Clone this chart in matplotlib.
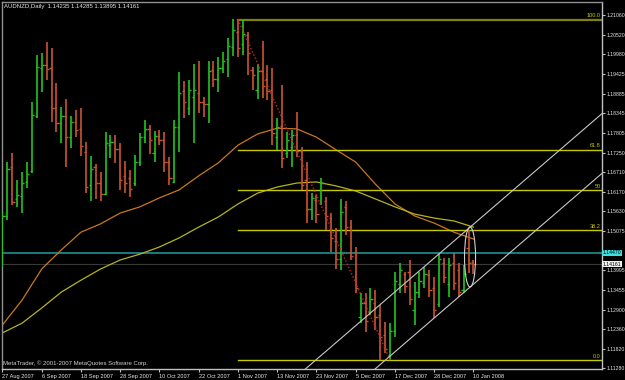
import matplotlib
matplotlib.use("Agg")
import matplotlib.pyplot as plt
from matplotlib.patches import Ellipse
import numpy as np

# AUDNZD daily bars, 27 Aug 2007 - 10 Jan 2008
opens = [1.1415, 1.1550, 1.1686, 1.1597, 1.1605, 1.1645, 1.1675, 1.1827, 1.1960, 1.1968,
         1.1960, 1.1849, 1.1807, 1.1827, 1.1768, 1.1810, 1.1790, 1.1727, 1.1636, 1.1686,
         1.1641, 1.1610, 1.1746, 1.1755, 1.1735, 1.1660, 1.1655, 1.1640, 1.1700, 1.1768,
         1.1790, 1.1725, 1.1770, 1.1760, 1.1700, 1.1645, 1.1796, 1.1895, 1.1850, 1.1880,
         1.1890, 1.1865, 1.1860, 1.1954, 1.1928, 1.1960, 1.1985, 1.2018, 1.2060, 1.2025,
         1.2050, 1.1955, 1.1900, 1.1950, 1.1930, 1.1900, 1.1768, 1.1800, 1.1725, 1.1740,
         1.1775, 1.1730, 1.1650, 1.1570, 1.1595, 1.1585, 1.1590, 1.1545, 1.1480, 1.1430,
         1.1575, 1.1520, 1.1450, 1.1270, 1.1310, 1.1285, 1.1310, 1.1275, 1.1220, 1.1165,
         1.1230, 1.1360, 1.1390, 1.1395, 1.1290, 1.1340, 1.1365, 1.1385, 1.1350, 1.1305,
         1.1420, 1.1360, 1.1420, 1.1400, 1.1345, 1.1460, 1.14235]
highs = [1.1561, 1.1699, 1.1724, 1.1650, 1.1672, 1.1699, 1.1865, 1.1996, 1.2001, 1.2032,
         1.2015, 1.1918, 1.1852, 1.1874, 1.1827, 1.1843, 1.1849, 1.1755, 1.1716, 1.1694,
         1.1672, 1.1782, 1.1774, 1.1774, 1.1752, 1.1702, 1.1677, 1.1719, 1.1780, 1.1816,
         1.1802, 1.1785, 1.1788, 1.1782, 1.1713, 1.1816, 1.1949, 1.1924, 1.1926, 1.1971,
         1.1979, 1.1879, 1.1979, 1.1979, 1.1990, 1.2004, 1.2043, 1.2095, 1.2093, 1.2093,
         1.2059, 1.1962, 1.1971, 1.2034, 1.1968, 1.1960, 1.1821, 1.1913, 1.1782, 1.1788,
         1.1838, 1.1741, 1.1699, 1.1613, 1.1608, 1.1655, 1.1602, 1.1558, 1.1516, 1.1597,
         1.1591, 1.1539, 1.1464, 1.1336, 1.1336, 1.1350, 1.1345, 1.1303, 1.1256, 1.1253,
         1.1395, 1.1420, 1.1395, 1.1428, 1.1367, 1.1395, 1.1408, 1.1400, 1.1381, 1.1447,
         1.1433, 1.1433, 1.1447, 1.1420, 1.1414, 1.1511, 1.14285]
lows = [1.1408, 1.1539, 1.1580, 1.1575, 1.1558, 1.1627, 1.1669, 1.1821, 1.1893, 1.1926,
        1.1810, 1.1782, 1.1752, 1.1686, 1.1738, 1.1768, 1.1716, 1.1613, 1.1591, 1.1597,
        1.1591, 1.1608, 1.1710, 1.1697, 1.1622, 1.1613, 1.1602, 1.1633, 1.1688, 1.1752,
        1.1721, 1.1699, 1.1746, 1.1672, 1.1636, 1.1641, 1.1727, 1.1821, 1.1829, 1.1752,
        1.1835, 1.1824, 1.1807, 1.1907, 1.1893, 1.1946, 1.1935, 1.1993, 1.1990, 1.1996,
        1.1940, 1.1899, 1.1874, 1.1877, 1.1871, 1.1746, 1.1733, 1.1683, 1.1710, 1.1686,
        1.1713, 1.1622, 1.1530, 1.1539, 1.1530, 1.1580, 1.1511, 1.1450, 1.1403, 1.1400,
        1.1497, 1.1428, 1.1336, 1.1253, 1.1228, 1.1275, 1.1234, 1.1151, 1.1170, 1.1151,
        1.1215, 1.1336, 1.1336, 1.1303, 1.1248, 1.1323, 1.1350, 1.1325, 1.1267, 1.1298,
        1.1364, 1.1325, 1.1345, 1.1325, 1.1336, 1.1392, 1.13895]
closes = [1.1550, 1.1680, 1.1588, 1.1608, 1.1640, 1.1665, 1.1829, 1.1962, 1.1968, 1.1957,
          1.1849, 1.1807, 1.1827, 1.1768, 1.1810, 1.1788, 1.1745, 1.1630, 1.1680, 1.1641,
          1.1610, 1.1752, 1.1755, 1.1735, 1.1650, 1.1640, 1.1625, 1.1700, 1.1768, 1.1790,
          1.1760, 1.1770, 1.1760, 1.1700, 1.1655, 1.1795, 1.1890, 1.1865, 1.1900, 1.1900,
          1.1865, 1.1860, 1.1950, 1.1930, 1.1960, 1.1980, 1.2020, 1.2065, 1.2015, 1.2055,
          1.2000, 1.1940, 1.1950, 1.1910, 1.1895, 1.1780, 1.1795, 1.1710, 1.1760, 1.1775,
          1.1730, 1.1635, 1.1570, 1.1600, 1.1555, 1.1640, 1.1550, 1.1490, 1.1430, 1.1560,
          1.1520, 1.1440, 1.1350, 1.1310, 1.1260, 1.1320, 1.1270, 1.1215, 1.1180, 1.1230,
          1.1370, 1.1400, 1.1355, 1.1320, 1.1340, 1.1370, 1.1390, 1.1345, 1.1290, 1.1430,
          1.1380, 1.1415, 1.1365, 1.1340, 1.1390, 1.1420, 1.14161]

# moving averages, read every 4th bar
ma_idx = list(range(0, 97, 4))
ma_fast = [1.1248, 1.1317, 1.1403, 1.1456, 1.1505, 1.1528, 1.1558, 1.1575, 1.1600, 1.1622,
           1.1661, 1.1697, 1.1746, 1.1777, 1.1793, 1.1791, 1.1768, 1.1733, 1.1699, 1.1638,
           1.1583, 1.1550, 1.1530, 1.1505, 1.1486]
ma_slow = [1.1226, 1.1253, 1.1295, 1.1339, 1.1372, 1.1403, 1.1428, 1.1444, 1.1464, 1.1489,
           1.1519, 1.1547, 1.1583, 1.1613, 1.1630, 1.1641, 1.1644, 1.1633, 1.1619, 1.1597,
           1.1575, 1.1555, 1.1544, 1.1536, 1.1519]

date_idx = list(range(0, 97, 8))
date_labels = ["27 Aug 2007", "6 Sep 2007", "18 Sep 2007", "28 Sep 2007", "10 Oct 2007",
               "22 Oct 2007", "1 Nov 2007", "13 Nov 2007", "23 Nov 2007", "5 Dec 2007",
               "17 Dec 2007", "28 Dec 2007", "10 Jan 2008"]
price_ticks = [1.21060, 1.20520, 1.19980, 1.19425, 1.18885, 1.18345, 1.17805, 1.17250,
               1.16710, 1.16170, 1.15630, 1.15075, 1.13995, 1.13455, 1.12900, 1.12360,
               1.11820, 1.11280]

# fibonacci retracement between the top (bar 48) and the bottom (bar 79)
fib_high, fib_low = 1.2094, 1.1151
fib_start, fib_end = 48, 79
fib_levels = [0.0, 38.2, 50, 61.8, 100.0]
fib_names = ["0.0", "38.2", "50", "61.8", "100.0"]

# channel: (bar, price) anchors
chan_up = [(62, 1.1129), (122, 1.1831)]
chan_lo = [(76.2, 1.1129), (122.3, 1.1669)]
hline_price = 1.1447
bid = 1.14161

W, H = 625, 380
fig = plt.figure(figsize=(W / 100, H / 100), dpi=100, facecolor="black")
ax = fig.add_axes([2 / W, 1 - 369 / H, 600 / W, 367 / H])
ax.set_facecolor("black")
ax.set_xlim(-0.1, 122.2)
ax.set_ylim(1.11259, 1.21425)

fnt = "Liberation Sans"
green, red = "#22c422", "#cc5533"

x = np.arange(len(opens))
cols = [green if c >= o else red for o, c in zip(opens, closes)]

# lines behind the bars
ax.axhline(hline_price, color="#1fa0a0", lw=1.1, zorder=1)
ax.axhline(bid, color="#383838", lw=0.8, zorder=1)
ax.plot(ma_idx, ma_fast, color="#c8781e", lw=0.9, zorder=2)
ax.plot(ma_idx, ma_slow, color="#b4b41e", lw=0.9, zorder=2)

for lv, nm in zip(fib_levels, fib_names):
    p = fib_low + (fib_high - fib_low) * lv / 100
    c = "#80800e" if lv == 100.0 else "#c8c800"
    ax.plot([fib_start, 123], [p, p], color=c, lw=1.6 if lv == 100.0 else 1.0, zorder=2)
    ax.text(121.9, p + 0.0003, nm, color="#c8c800", fontsize=4.0, family=fnt,
            ha="right", va="bottom", zorder=5)

# OHLC bars
ax.vlines(x, lows, highs, colors=cols, lw=1.2, zorder=3)
ax.hlines(opens, x - 0.45, x, colors=cols, lw=1.0, zorder=3)
ax.hlines(closes, x, x + 0.45, colors=cols, lw=1.0, zorder=3)

ax.plot([fib_start, fib_end], [fib_high, fib_low], color="#d02020", lw=1.0,
        ls=(0, (1, 1.5)), zorder=4)

ax.axline(chan_up[0], chan_up[1], color="#c8c8c8", lw=0.8, zorder=4)
ax.axline(chan_lo[0], chan_lo[1], color="#c8c8c8", lw=0.8, zorder=4)
ax.add_patch(Ellipse((95.3, 1.1436), 2.25, 0.0166, fill=False, ec="#d0d0d0", lw=0.8, zorder=4))

# axes styling like the terminal
for s in ["top", "left"]:
    ax.spines[s].set_color("#909090")
for s in ["right", "bottom"]:
    ax.spines[s].set_color("#c0c0c0")
for s in ax.spines.values():
    s.set_linewidth(1.0)

ax.yaxis.tick_right()
ax.set_yticks(price_ticks)
ax.set_yticklabels(["%.5f" % p for p in price_ticks])
ax.set_xticks(date_idx)
ax.set_xticklabels(date_labels, ha="left")
ax.tick_params(axis="y", colors="#c0c0c0", labelcolor="#e8e8e8", length=2.5, width=0.8,
               pad=0.8, labelsize=3.7)
ax.tick_params(axis="x", colors="#c0c0c0", labelcolor="#e8e8e8", length=2.5, width=0.8,
               pad=1, labelsize=4.1)
for lab in ax.get_xticklabels() + ax.get_yticklabels():
    lab.set_family(fnt)

fig.text(4 / W, 1 - 6.5 / H, "AUDNZD,Daily  1.14235 1.14285 1.13895 1.14161",
         color="#e8e8e8", fontsize=4.3, family=fnt, va="center")
fig.text(3 / W, 1 - 363 / H, "MetaTrader, \u00a9 2001-2007 MetaQuotes Software Corp.",
         color="#d0d0d0", fontsize=4.3, family=fnt, va="center")

# price labels on the scale
fig.text(603 / W, 1 - 253 / H, "1.14470", color="black", fontsize=3.7, family=fnt, va="center",
         bbox=dict(boxstyle="square,pad=0.15", fc="#3ee0e0", ec="none"))
fig.text(603 / W, 1 - 264 / H, "1.14161", color="black", fontsize=3.7, family=fnt, va="center",
         bbox=dict(boxstyle="square,pad=0.15", fc="#f0f0f0", ec="none"))

fig.savefig("out.png", dpi=100, facecolor="black")
